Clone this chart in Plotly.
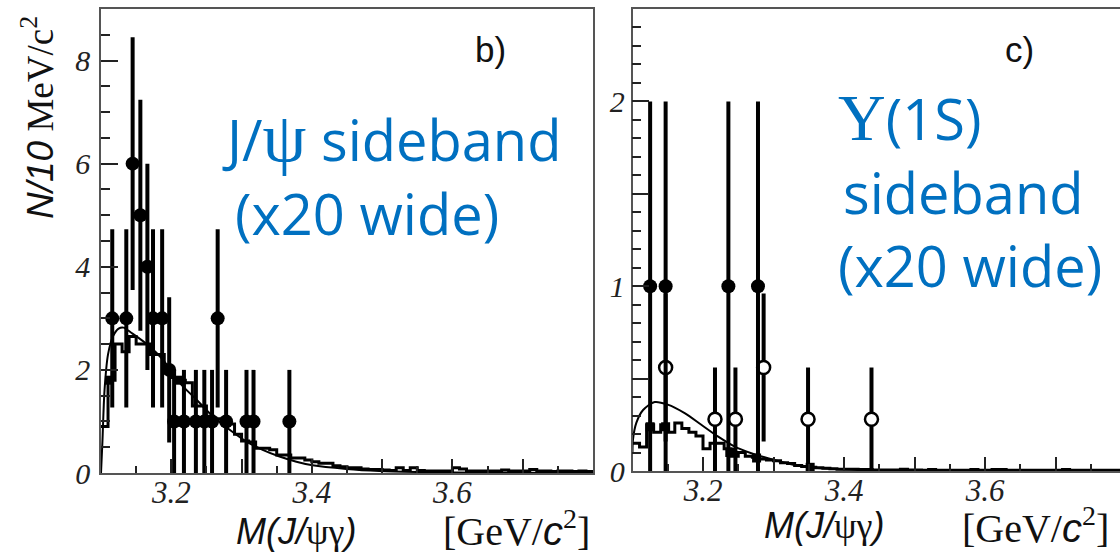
import numpy as np
import plotly.graph_objects as go

# ---------------- panel b) : J/psi sideband ----------------
b_x = [3.116, 3.136, 3.145, 3.156, 3.166, 3.174, 3.187, 3.197, 3.204,
       3.218, 3.235, 3.247, 3.258, 3.266, 3.278, 3.307, 3.317, 3.368]
b_n = [3, 3, 6, 5, 4, 3, 3, 2, 1, 1, 1, 1, 1, 3, 1, 1, 1, 1]
b_err = [1.73, 1.73, 2.45, 2.24, 2.0, 1.73, 1.73, 1.41, 1.0,
         1.0, 1.0, 1.0, 1.0, 1.73, 1.0, 1.0, 1.0, 1.0]

# background shape histogram, 10 MeV bins starting at 3.10
b_hist = [0.9, 1.8, 2.5, 2.35, 2.65, 2.5, 2.5, 2.3, 2.3, 1.95,
          1.85, 1.8, 1.75, 1.3, 1.3, 1.1, 1.05, 1.05, 0.95, 0.75,
          0.62, 0.6, 0.48, 0.48, 0.45, 0.35, 0.35, 0.29, 0.29, 0.25,
          0.22, 0.19, 0.19, 0.14, 0.12, 0.10, 0.10, 0.08, 0.07, 0.07,
          0.06, 0.05, 0.10, 0.05, 0.10, 0.05, 0.04, 0.04, 0.04, 0.04,
          0.10, 0.08, 0.04, 0.04, 0.04, 0.04, 0.04, 0.06, 0.04, 0.04,
          0.04, 0.07, 0.04, 0.04, 0.03, 0.04, 0.04, 0.03, 0.04, 0.03]
b_sq_x = [3.112, 3.212]
b_sq_y = [1.8, 1.8]

# fitted background curve
b_fit_x = [3.100, 3.102, 3.105, 3.110, 3.117, 3.125, 3.132, 3.143, 3.165,
           3.188, 3.212, 3.236, 3.259, 3.283, 3.307, 3.330, 3.354, 3.378,
           3.401, 3.449, 3.496, 3.550, 3.600, 3.700, 3.800]
b_fit_y = [0.0, 0.6, 1.6, 2.3, 2.65, 2.8, 2.82, 2.72, 2.5,
           2.2, 1.75, 1.42, 1.1, 0.84, 0.61, 0.45, 0.32, 0.22,
           0.15, 0.08, 0.04, 0.02, 0.01, 0.004, 0.001]

# ---------------- panel c) : Upsilon(1S) sideband ----------------
c_x = [3.125, 3.147, 3.236, 3.278]
c_n = [1, 1, 1, 1]
c_err = [1.0, 1.0, 1.0, 1.0]

c_open_x = [3.147, 3.217, 3.246, 3.286, 3.349, 3.439]
c_open_n = [0.56, 0.28, 0.28, 0.56, 0.28, 0.28]
c_open_err = [0.40, 0.28, 0.28, 0.40, 0.28, 0.28]

c_hist = [0.15, 0.13, 0.25, 0.21, 0.25, 0.21, 0.26, 0.23, 0.21, 0.19,
          0.12, 0.15, 0.15, 0.12, 0.08, 0.10, 0.08, 0.075, 0.065, 0.06,
          0.055, 0.045, 0.04, 0.03, 0.025, 0.02, 0.018, 0.015, 0.012, 0.01,
          0.01, 0.01, 0.008, 0.008, 0.006, 0.006, 0.005, 0.005, 0.01, 0.005,
          0.005, 0.004, 0.008, 0.004, 0.004, 0.004, 0.004, 0.004, 0.008, 0.004,
          0.004, 0.008, 0.008, 0.004, 0.004, 0.004, 0.004, 0.004, 0.004, 0.004,
          0.004, 0.008, 0.004, 0.004, 0.004, 0.004, 0.004, 0.004, 0.004, 0.004]
c_sq_x = [3.125, 3.147, 3.238, 3.276, 3.352]
c_sq_y = [0.24, 0.24, 0.10, 0.07, 0.02]

c_fit_x = [3.100, 3.1007, 3.1054, 3.115, 3.1315, 3.150, 3.174, 3.1976, 3.221,
           3.245, 3.2685, 3.292, 3.316, 3.344, 3.38, 3.42, 3.46, 3.55, 3.65, 3.8]
c_fit_y = [0.10, 0.17, 0.26, 0.33, 0.373, 0.359, 0.313, 0.25, 0.187,
           0.132, 0.096, 0.069, 0.045, 0.023, 0.012, 0.006, 0.003, 0.001, 0.0005, 0.0]

BIN_LO, BIN_W = 3.10, 0.01


def step_xy(vals):
    edges = BIN_LO + BIN_W * np.arange(len(vals) + 1)
    return edges, list(vals) + [vals[-1]]


fig = go.Figure()


def add_panel(xa, ya, hist, fit_x, fit_y, sq_x, sq_y):
    hx, hy = step_xy(hist)
    fig.add_trace(go.Scatter(x=hx, y=hy, mode="lines", line=dict(shape="hv", color="black", width=3),
                             xaxis=xa, yaxis=ya, showlegend=False, hoverinfo="skip"))
    fig.add_trace(go.Scatter(x=sq_x, y=sq_y, mode="markers",
                             marker=dict(symbol="square", size=9, color="black"),
                             xaxis=xa, yaxis=ya, showlegend=False, hoverinfo="skip"))
    fig.add_trace(go.Scatter(x=fit_x, y=fit_y, mode="lines",
                             line=dict(shape="spline", smoothing=0.8, color="black", width=2),
                             xaxis=xa, yaxis=ya, showlegend=False, hoverinfo="skip"))


add_panel("x", "y", b_hist, b_fit_x, b_fit_y, b_sq_x, b_sq_y)
fig.add_trace(go.Scatter(x=b_x, y=b_n, mode="markers",
                         marker=dict(symbol="circle", size=14, color="black"),
                         error_y=dict(type="data", array=b_err, color="black", thickness=4, width=0),
                         xaxis="x", yaxis="y", showlegend=False))

add_panel("x2", "y2", c_hist, c_fit_x, c_fit_y, c_sq_x, c_sq_y)
fig.add_trace(go.Scatter(x=c_open_x, y=c_open_n, mode="markers",
                         marker=dict(symbol="circle", size=13, color="white",
                                     line=dict(color="black", width=2.5)),
                         error_y=dict(type="data", array=c_open_err, color="black", thickness=4, width=0),
                         xaxis="x2", yaxis="y2", showlegend=False))
fig.add_trace(go.Scatter(x=c_x, y=c_n, mode="markers",
                         marker=dict(symbol="circle", size=14, color="black"),
                         error_y=dict(type="data", array=c_err, color="black", thickness=4, width=0),
                         xaxis="x2", yaxis="y2", showlegend=False))

W, H = 1120, 553
FRAME = "#555555"
TICKC = "#222222"
x_tick_font = dict(family="Liberation Serif", size=31, color="#222222", style="italic")
y_tick_font = dict(family="Liberation Serif", size=30, color="#222222", style="italic")

x_tickvals = [3.1, 3.2, 3.3, 3.4, 3.5, 3.6, 3.7, 3.8]
x_ticktext = ["", "3.2", "", "3.4", "", "3.6", "", ""]


def xaxis_cfg(dom, rng, anchor):
    return dict(domain=dom, range=rng, anchor=anchor, showline=True, linecolor=FRAME, linewidth=1.5,
                mirror=True, ticks="inside", ticklen=14, tickwidth=1.5, tickcolor=TICKC,
                tickmode="array", tickvals=x_tickvals, ticktext=x_ticktext, tickfont=x_tick_font,
                ticklabelstandoff=-9, automargin=False,
                minor=dict(ticks="inside", ticklen=7, tickwidth=1.5, tickcolor=TICKC,
                           tickmode="linear", tick0=3.1, dtick=0.05, showgrid=False),
                showgrid=False, zeroline=False)


fig.update_layout(
    width=W, height=H, margin=dict(l=0, r=0, t=0, b=0, autoexpand=False),
    paper_bgcolor="white", plot_bgcolor="white",
    xaxis=xaxis_cfg([101 / W, 593 / W], [3.1, 3.8], "y"),
    xaxis2=xaxis_cfg([632.5 / W, 1.0], [3.1, 3.1 + (W - 632.5) / 705], "y2"),
    yaxis=dict(domain=[(H - 473) / H, (H - 9) / H], range=[0, 9], anchor="x",
               showline=True, linecolor=FRAME, linewidth=1.5, mirror=True,
               ticks="inside", ticklen=17, tickwidth=1.5, tickcolor=TICKC,
               tickmode="array", tickvals=[0, 2, 4, 6, 8], ticktext=["0", "2", "4", "6", "8"],
               tickfont=y_tick_font, ticklabelstandoff=3, automargin=False,
               minor=dict(ticks="inside", ticklen=9, tickwidth=1.5, tickcolor=TICKC,
                          tickmode="linear", tick0=0, dtick=0.5, showgrid=False),
               showgrid=False, zeroline=False),
    yaxis2=dict(domain=[(H - 471) / H, (H - 9) / H], range=[0, 2.5], anchor="x2",
                showline=True, linecolor=FRAME, linewidth=1.5, mirror=False,
                ticks="inside", ticklen=17, tickwidth=1.5, tickcolor=TICKC,
                tickmode="array", tickvals=[0, 0.5, 1, 1.5, 2], ticktext=["0", "", "1", "", "2"],
                tickfont=y_tick_font, ticklabelstandoff=0, automargin=False,
                minor=dict(ticks="inside", ticklen=9, tickwidth=1.5, tickcolor=TICKC,
                           tickmode="linear", tick0=0, dtick=0.1, showgrid=False),
                showgrid=False, zeroline=False),
)

BLUE = "#0070C0"
SANS = "Open Sans"
SERIF = "Liberation Serif"


def note(text, x, y, size, family=SANS, color=BLUE, xanchor="left", angle=0):
    fig.add_annotation(text=text, x=x / W, y=1 - y / H, xref="paper", yref="paper",
                       xanchor=xanchor, yanchor="middle", showarrow=False, textangle=angle,
                       font=dict(family=family, size=size, color=color))


# panel labels
note("b)", 473, 50, 35, family="Liberation Sans", color="#111111")
note("c)", 1003, 50, 35, family="Liberation Sans", color="#111111")

# sideband annotations
psi = '<span style="font-family:Liberation Serif;font-size:70px">ψ</span>'
ups = '<span style="font-family:Liberation Serif;font-size:66px">Υ</span>'
note("J/" + psi + " sideband", 220, 138, 56)
note("(x20 wide)", 233, 213, 56)
note(ups + "(1S)", 836, 118, 56)
note("sideband", 841, 192, 56)
note("(x20 wide)", 836, 265, 56)

# axis titles
mtitle = '<i>M(J/</i><span style="font-family:Liberation Serif">ψγ</span><i>)</i>'
gev = '[GeV/<span style="font-family:Liberation Sans"><i>c</i></span><sup>2</sup>]'
SANS_T = "Liberation Sans"
note(mtitle, 296, 531, 36, family=SANS_T, color="#111111", xanchor="center")
note(gev, 516, 528, 40, family=SERIF, color="#111111", xanchor="center")
note(mtitle, 824, 525, 36, family=SANS_T, color="#111111", xanchor="center")
note(gev, 1035, 525, 40, family=SERIF, color="#111111", xanchor="center")

ytitle = '<span style="font-family:Liberation Sans"><i>N/10</i></span> MeV/c<sup>2</sup>'
fig.add_annotation(text=ytitle, x=37 / W, y=1 - 118 / H, xref="paper", yref="paper",
                   xanchor="center", yanchor="middle", showarrow=False, textangle=-90,
                   font=dict(family=SERIF, size=37, color="#111111"))

fig.write_html("out.html")
